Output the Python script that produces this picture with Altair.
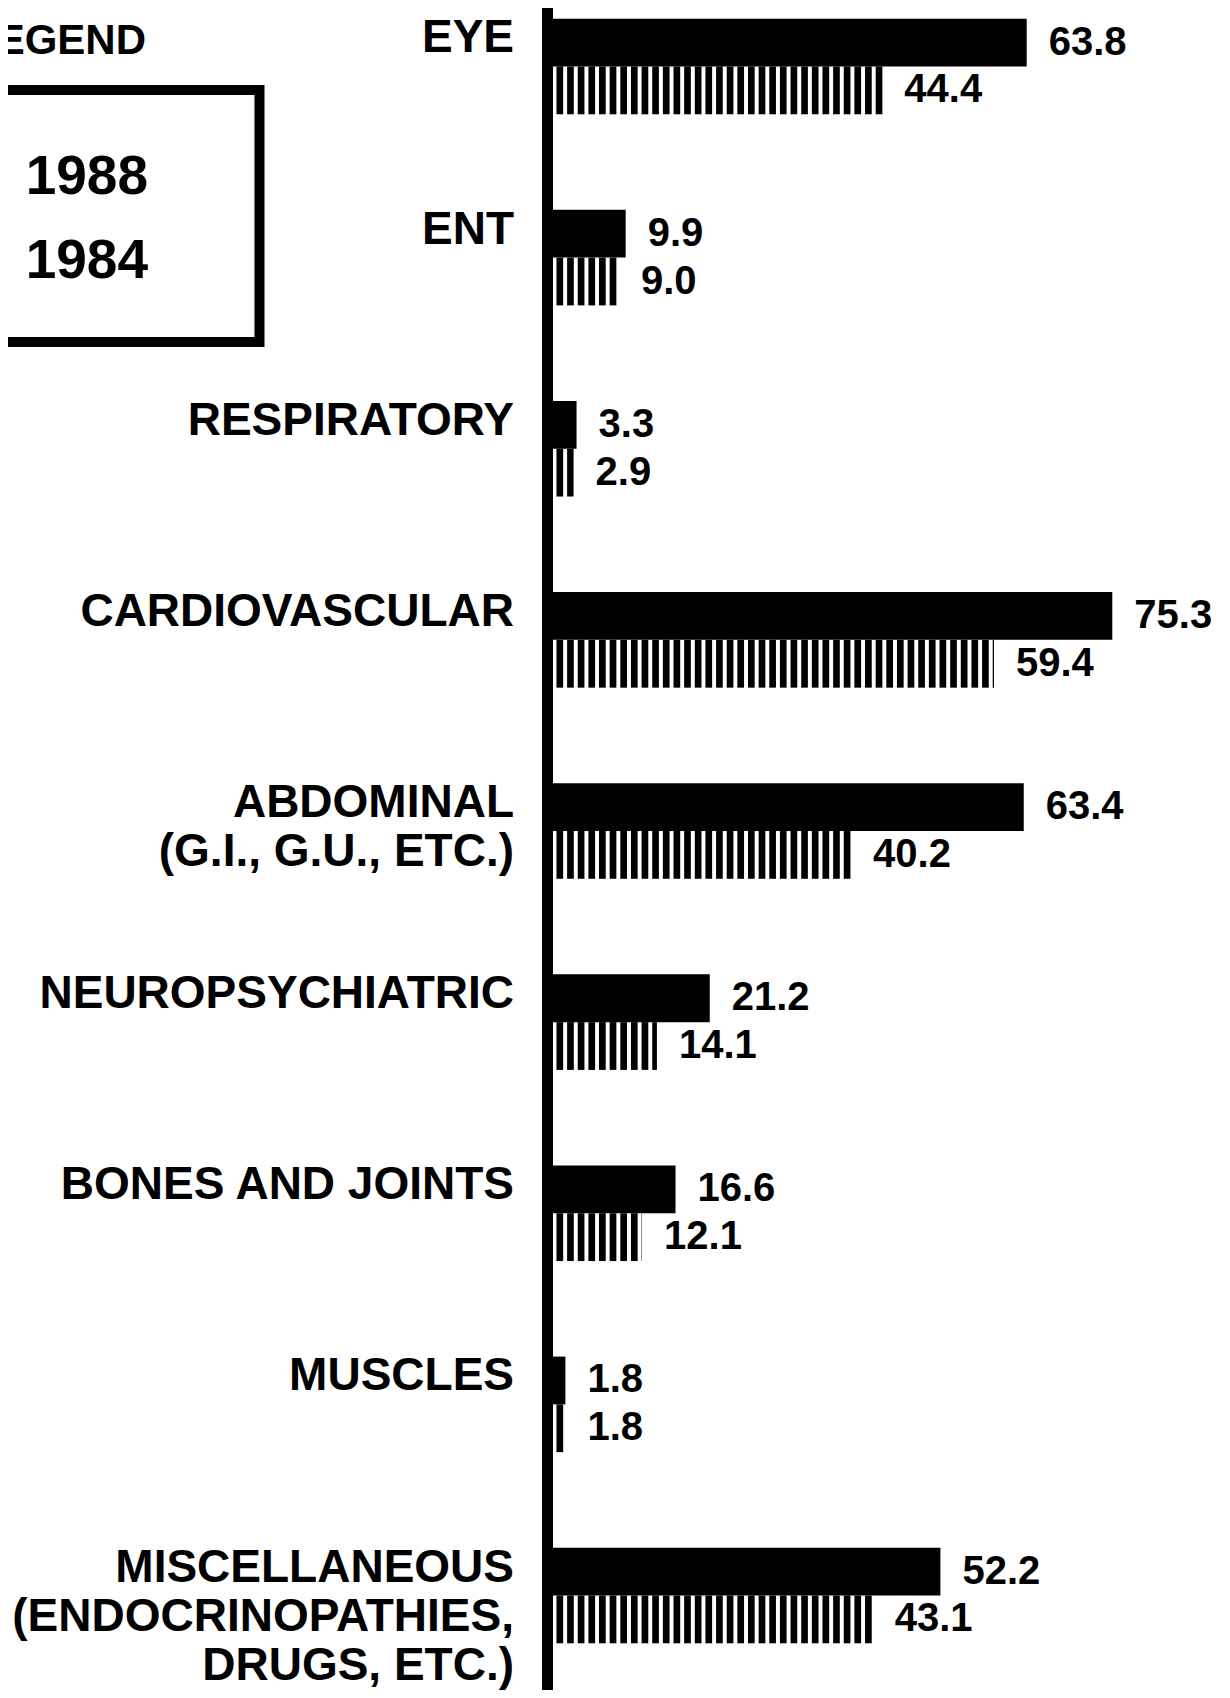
import altair as alt
import pandas as pd

categories = [
    "EYE",
    "ENT",
    "RESPIRATORY",
    "CARDIOVASCULAR",
    "ABDOMINAL\n(G.I., G.U., ETC.)",
    "NEUROPSYCHIATRIC",
    "BONES AND JOINTS",
    "MUSCLES",
    "MISCELLANEOUS\n(ENDOCRINOPATHIES,\nDRUGS, ETC.)",
]
years = ["1988", "1984"]
values_1988 = [63.8, 9.9, 3.3, 75.3, 63.4, 21.2, 16.6, 1.8, 52.2]
values_1984 = [44.4, 9.0, 2.9, 59.4, 40.2, 14.1, 12.1, 1.8, 43.1]
legend_title = "LEGEND"

rows = []
for c, v in zip(categories, values_1988):
    rows.append({"category": c, "year": "1988", "value": v})
for c, v in zip(categories, values_1984):
    rows.append({"category": c, "year": "1984", "value": v})
df = pd.DataFrame(rows)
df_cat = pd.DataFrame({"category": categories})
one = pd.DataFrame({"a": [0]})

FONT = "Liberation Sans"
W, H = 660, 1646

xscale = alt.Scale(domain=[0, 88.7], nice=False, zero=True)
yscale = alt.Scale(domain=categories, paddingInner=0.5, paddingOuter=0.056)
yoff = alt.Scale(domain=years, paddingInner=0, paddingOuter=0)

X = alt.X("value:Q", scale=xscale, axis=None)
Y = alt.Y("category:N", scale=yscale, axis=None)
YO = alt.YOffset("year:N", scale=yoff)

axis_line = alt.Chart(one).mark_rule(color="black", strokeWidth=11).encode(
    x=alt.value(-4.5), y=alt.value(0), y2=alt.value(1682)
)

bars_1988 = (
    alt.Chart(df)
    .transform_filter("datum.year == '1988'")
    .mark_bar(color="black")
    .encode(x=X, y=Y, yOffset=YO)
)

stripes_1984 = (
    alt.Chart(df)
    .transform_filter("datum.year == '1984'")
    .transform_calculate(s="sequence(0.6, datum.value, 1.43)")
    .transform_flatten(["s"])
    .transform_calculate(e="min(datum.s + 0.9, datum.value)")
    .mark_bar(color="black")
    .encode(
        x=alt.X("s:Q", scale=xscale, axis=None),
        x2="e:Q",
        y=Y,
        yOffset=YO,
    )
)

value_labels = (
    alt.Chart(df)
    .mark_text(align="left", baseline="middle", dx=22, font=FONT,
               fontSize=40, fontWeight="bold", color="black")
    .encode(x=X, y=Y, yOffset=YO, text=alt.Text("value:Q", format=".1f"))
)

cat_labels = (
    alt.Chart(df_cat)
    .mark_text(align="right", baseline="middle", dy=-28, font=FONT,
               fontSize=46, fontWeight="bold", color="black",
               lineBreak="\n", lineHeight=49)
    .encode(x=alt.value(-38), y=Y, text="category:N")
)

legend_head = alt.Chart(pd.DataFrame({"t": [legend_title]})).mark_text(
    align="right", baseline="alphabetic", font=FONT, fontSize=42,
    fontWeight="bold", color="black"
).encode(x=alt.value(-406), y=alt.value(46), text="t:N")

legend_box = alt.Chart(one).mark_rect(
    fill="white", fillOpacity=0, stroke="black", strokeWidth=10
).encode(x=alt.value(-600), x2=alt.value(-292.5), y=alt.value(82), y2=alt.value(334))

legend_1988 = alt.Chart(pd.DataFrame({"t": [years[0]]})).mark_text(
    align="right", baseline="middle", font=FONT, fontSize=55,
    fontWeight="bold", color="black"
).encode(x=alt.value(-404), y=alt.value(169), text="t:N")

legend_1984 = alt.Chart(pd.DataFrame({"t": [years[1]]})).mark_text(
    align="right", baseline="middle", font=FONT, fontSize=55,
    fontWeight="bold", color="black"
).encode(x=alt.value(-404), y=alt.value(253), text="t:N")

chart = (
    alt.layer(
        legend_box, legend_head, legend_1988, legend_1984,
        axis_line, bars_1988, stripes_1984, value_labels, cat_labels,
    )
    .properties(
        width=W,
        height=H,
        padding={"left": 544, "top": 0, "right": 0, "bottom": 36},
        autosize=alt.AutoSizeParams(type="none"),
        background="white",
    )
    .configure_view(stroke=None)
)

chart.save("out.html", embed_options={"renderer": "svg", "actions": False})
